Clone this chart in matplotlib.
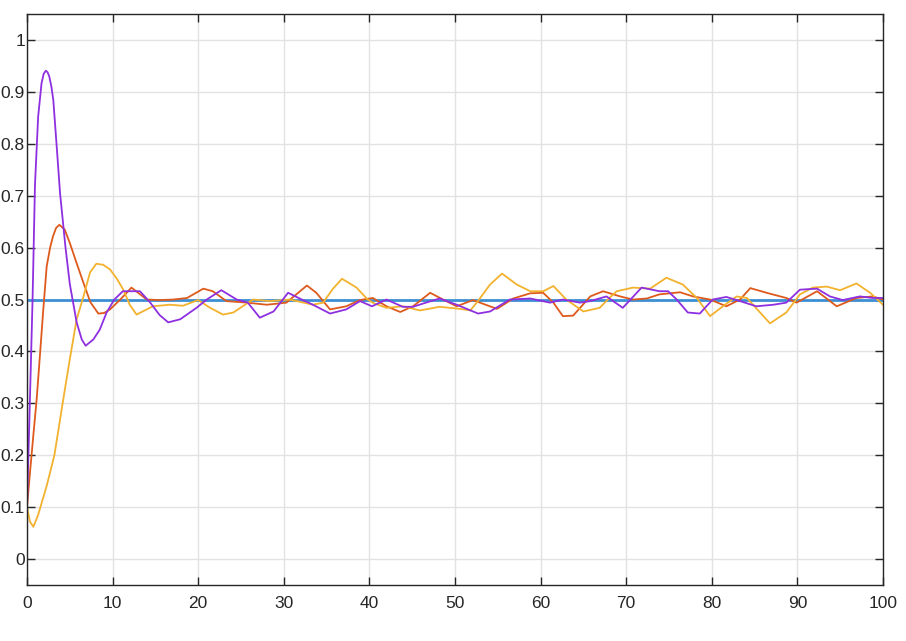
import matplotlib
matplotlib.use("Agg")
import matplotlib.pyplot as plt
import numpy as np

plt.rcParams.update({"font.family": ["Liberation Sans", "DejaVu Sans"],
                     "font.size": 12})

# reference (constant set point)
ref_x = [0, 100]
ref_y = [0.5, 0.5]

# orange response
org_x = [0, 0.35, 0.75, 1.13, 1.5, 1.9, 2.3, 2.7, 3.04, 3.4, 3.78, 4.4, 5.0,
         5.8, 6.6, 7.4, 8.33, 9.0, 9.7, 10.9, 12.2, 14.0, 15.5, 17.1, 18.7,
         20.6, 21.7, 23.3, 25.7, 28.0, 30.3, 32.7, 33.8, 35.4, 37.3, 38.9,
         40.4, 42.0, 43.6, 45.1, 47.1, 48.6, 50.2, 52.1, 54.9, 56.8, 58.8,
         60.3, 61.5, 62.6, 63.8, 65.8, 67.3, 69.3, 70.8, 72.4, 73.9, 76.3,
         77.8, 79.8, 81.7, 83.3, 84.5, 86.4, 88.7, 89.9, 92.3, 94.6, 96.9,
         98.8, 100]
org_y = [0.1, 0.167, 0.24, 0.308, 0.39, 0.48, 0.564, 0.6, 0.622, 0.638,
         0.644, 0.635, 0.609, 0.57, 0.532, 0.495, 0.473, 0.474, 0.481, 0.5,
         0.523, 0.5, 0.499, 0.5, 0.503, 0.521, 0.516, 0.497, 0.494, 0.49,
         0.494, 0.527, 0.513, 0.481, 0.487, 0.499, 0.503, 0.487, 0.476, 0.487,
         0.513, 0.5, 0.487, 0.499, 0.482, 0.502, 0.512, 0.513, 0.494, 0.468,
         0.469, 0.506, 0.516, 0.506, 0.5, 0.502, 0.51, 0.514, 0.506, 0.5,
         0.487, 0.5, 0.522, 0.513, 0.503, 0.494, 0.516, 0.487, 0.503, 0.506,
         0.5]

# yellow response
yel_x = [0, 0.35, 0.74, 1.3, 2.3, 3.2, 4.24, 5.0, 5.8, 6.6, 7.36, 8.1, 8.9,
         9.7, 10.5, 11.25, 12.0, 12.8, 14.7, 16.7, 18.2, 20.0, 21.4, 22.9,
         24.1, 25.2, 26.4, 28.4, 30.7, 33.4, 34.6, 35.7, 36.8, 38.5, 39.8,
         40.5, 42.0, 43.9, 45.9, 48.2, 50.6, 51.8, 52.9, 54.1, 55.5, 57.2,
         58.8, 60.3, 61.5, 63.0, 65.0, 66.9, 68.1, 68.9, 70.8, 72.8, 74.7,
         76.6, 78.2, 79.8, 81.3, 82.9, 84.1, 86.8, 88.7, 90.3, 91.8, 93.4,
         95.0, 96.9, 98.5, 100]
yel_y = [0.1, 0.072, 0.062, 0.085, 0.141, 0.2, 0.308, 0.385, 0.462, 0.506,
         0.552, 0.569, 0.567, 0.558, 0.54, 0.519, 0.49, 0.471, 0.487, 0.49,
         0.488, 0.499, 0.484, 0.471, 0.475, 0.487, 0.5, 0.497, 0.5, 0.49,
         0.494, 0.52, 0.54, 0.523, 0.5, 0.493, 0.484, 0.487, 0.479, 0.486,
         0.482, 0.479, 0.502, 0.529, 0.55, 0.529, 0.516, 0.516, 0.526, 0.5,
         0.477, 0.484, 0.504, 0.516, 0.523, 0.521, 0.542, 0.529, 0.504, 0.468,
         0.487, 0.506, 0.503, 0.454, 0.475, 0.51, 0.523, 0.525, 0.518, 0.531,
         0.513, 0.49]

# purple response
pur_x = [0, 0.33, 0.65, 0.93, 1.3, 1.7, 1.95, 2.2, 2.4, 2.6, 2.85, 3.07,
         3.47, 3.86, 4.5, 5.0, 5.8, 6.4, 6.85, 7.75, 8.5, 9.3, 10.2, 11.2,
         13.2, 14.4, 15.5, 16.5, 17.9, 19.8, 21.0, 22.7, 24.5, 25.8, 27.2,
         28.8, 30.5, 32.1, 33.4, 35.4, 37.3, 38.9, 40.3, 42.0, 43.9, 45.1,
         46.6, 48.2, 50.2, 52.7, 54.1, 56.4, 58.8, 61.1, 62.6, 64.6, 65.8,
         67.7, 69.6, 71.8, 73.9, 74.9, 75.9, 77.2, 78.6, 80.1, 81.7, 83.3,
         85.2, 87.2, 88.7, 90.3, 92.3, 93.8, 95.3, 97.3, 98.8, 100]
pur_y = [0.1, 0.3, 0.5, 0.72, 0.852, 0.917, 0.935, 0.941, 0.938, 0.93, 0.91,
         0.885, 0.795, 0.705, 0.6, 0.53, 0.456, 0.423, 0.411, 0.423, 0.442,
         0.475, 0.5, 0.516, 0.516, 0.494, 0.47, 0.456, 0.462, 0.484, 0.5,
         0.518, 0.5, 0.494, 0.465, 0.477, 0.513, 0.5, 0.49, 0.473, 0.481,
         0.497, 0.487, 0.5, 0.486, 0.486, 0.494, 0.502, 0.49, 0.473, 0.477,
         0.5, 0.502, 0.494, 0.5, 0.494, 0.497, 0.506, 0.484, 0.523, 0.516,
         0.516, 0.5, 0.475, 0.473, 0.5, 0.505, 0.497, 0.487, 0.49, 0.494,
         0.519, 0.521, 0.506, 0.499, 0.506, 0.503, 0.503]

yticks = [0, 0.1, 0.2, 0.3, 0.4, 0.5, 0.6, 0.7, 0.8, 0.9, 1]
ylabels = ["0", "0.1", "0.2", "0.3", "0.4", "0.5", "0.6", "0.7", "0.8", "0.9", "1"]
xticks = [0, 10, 20, 30, 40, 50, 60, 70, 80, 90, 100]

fig = plt.figure(figsize=(9.06, 6.41), dpi=100)
ax = fig.add_axes([0.0298, 0.0874, 0.9448, 0.8906])

ax.plot(ref_x, ref_y, color="#3d8fd4", lw=2.0)
ax.plot(org_x, org_y, color="#de5a1c", lw=1.3)
ax.plot(yel_x, yel_y, color="#f2b22e", lw=1.3)
ax.plot(pur_x, pur_y, color="#8e2fe0", lw=1.3)

ax.set_xlim(0, 100)
ax.set_ylim(-0.05, 1.05)
ax.set_xticks(xticks)
ax.set_xticklabels([str(v) for v in xticks])
ax.set_yticks(yticks)
ax.set_yticklabels(ylabels)
ax.grid(True, color="#e2e2e2", lw=1.0)
ax.set_axisbelow(True)
ax.tick_params(direction="in", length=6, width=1, top=True, right=True,
               colors="#262626", labelsize=12.5)
ax.tick_params(axis="y", pad=1.5)
ax.tick_params(axis="x", pad=8)
for s in ax.spines.values():
    s.set_color("#262626")
    s.set_linewidth(1.0)

fig.savefig("out.png", dpi=100)
